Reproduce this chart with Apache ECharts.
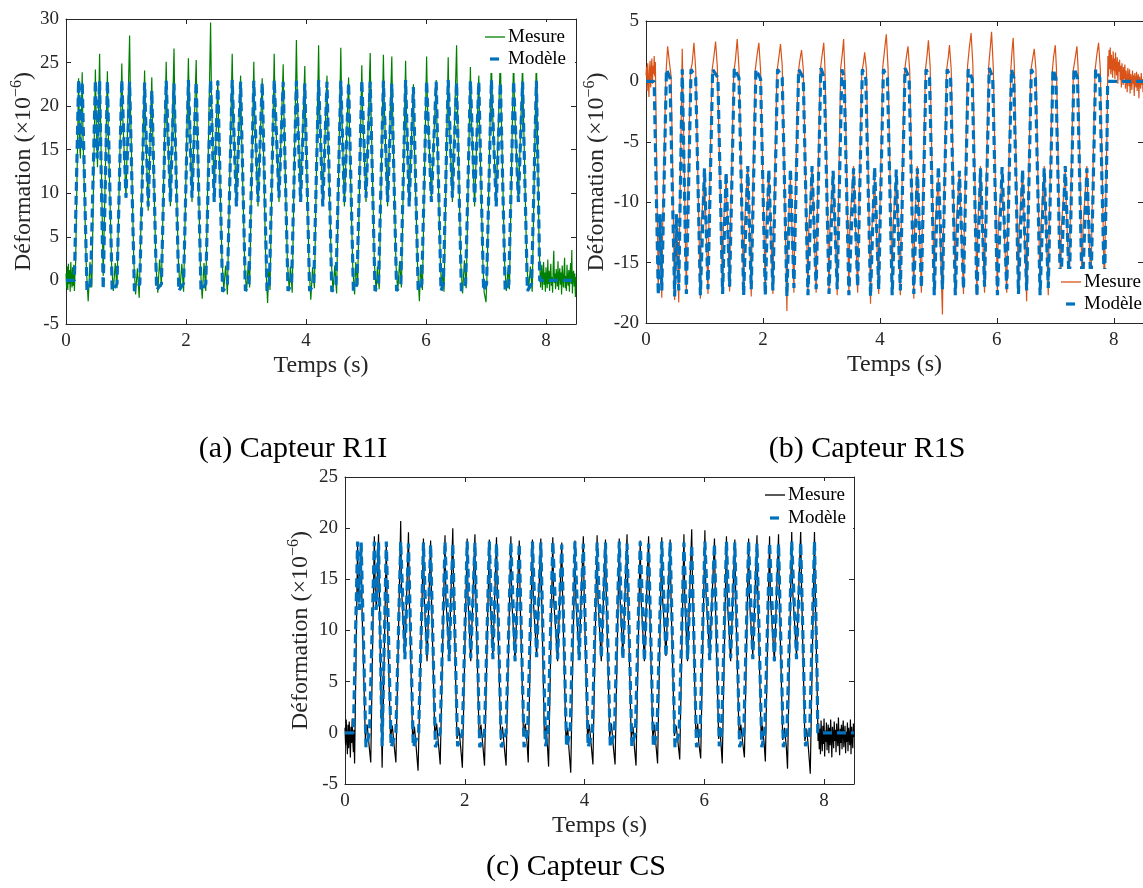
<!DOCTYPE html>
<html>
<head>
<meta charset="utf-8">
<script src="https://cdn.jsdelivr.net/npm/echarts@6/dist/echarts.min.js"></script>
<style>
html,body{margin:0;padding:0;background:#fff;}
#chart{width:1143px;height:888px;}
</style>
</head>
<body>
<div id="chart"></div>
<script>
// ---------- DATA ----------
const xTicks = [0, 2, 4, 6, 8];
const captions = ['(a) Capteur R1I', '(b) Capteur R1S', '(c) Capteur CS'];
const legendNames = ['Mesure', 'Modèle'];

// time knots of the measured signals (s), shared by the three sensors
const tMeas = [
  0,0.01,0.02,0.03,0.04,0.05,0.06,0.07,0.08,0.09,0.10,0.11,0.12,0.13,0.14,0.15,0.16,
  0.21,0.225,0.24,0.27,0.285,0.34,0.37,0.40,0.43,
  0.49,0.505,0.525,0.56,0.575,0.62,0.69,0.705,0.76,0.79,0.82,0.85,
  0.93,0.945,1.00,1.06,1.075,1.13,1.16,1.19,1.22,
  1.31,1.325,1.37,1.43,1.445,1.50,1.53,1.56,1.59,
  1.67,1.685,1.74,1.80,1.815,1.87,1.90,1.93,1.96,
  2.04,2.055,2.10,2.17,2.185,2.24,2.27,2.30,2.33,
  2.41,2.425,2.47,2.53,2.545,2.60,2.63,2.66,2.69,
  2.77,2.785,2.84,2.91,2.925,2.98,3.01,3.04,3.06,
  3.13,3.145,3.20,3.27,3.285,3.33,3.36,3.38,3.40,
  3.47,3.485,3.55,3.62,3.635,3.69,3.72,3.74,3.77,
  3.84,3.855,3.91,3.98,3.995,4.05,4.08,4.11,4.14,
  4.21,4.225,4.28,4.35,4.365,4.42,4.45,4.48,4.51,
  4.58,4.595,4.64,4.71,4.725,4.78,4.81,4.83,4.86,
  4.93,4.945,5.00,5.07,5.085,5.14,5.17,5.19,5.22,
  5.29,5.305,5.36,5.43,5.445,5.50,5.53,5.56,5.59,
  5.66,5.675,5.72,5.79,5.805,5.86,5.89,5.91,5.94,
  6.01,6.025,6.09,6.17,6.185,6.24,6.26,6.28,6.30,
  6.37,6.385,6.44,6.51,6.525,6.58,6.61,6.64,6.67,
  6.74,6.755,6.81,6.88,6.895,6.95,6.97,7.00,7.02,
  7.09,7.105,7.17,7.24,7.255,7.31,7.34,7.37,7.39,
  7.46,7.475,7.54,7.61,7.625,7.68,7.71,7.74,7.77,
  7.84,7.855,7.885,
  7.90,7.91,7.92,7.93,7.94,7.95,7.96,7.97,7.98,7.99,
  8.00,8.01,8.02,8.03,8.04,8.05,8.06,8.07,8.08,8.09,
  8.10,8.11,8.12,8.13,8.14,8.15,8.16,8.17,8.18,8.19,
  8.20,8.21,8.22,8.23,8.24,8.25,8.26,8.27,8.28,8.29,
  8.30,8.31,8.32,8.33,8.34,8.35,8.36,8.37,8.38,8.39,
  8.40,8.41,8.42,8.43,8.44,8.45,8.46,8.47,8.48,8.49,
  8.50
];

const measR1I = [
  0.8,-0.9,1.6,-1.1,1.9,-0.4,1.2,-1.3,2.1,0.2,-0.8,1.5,-0.6,1.8,-1.2,0.9,2.0,
  23.2,16,14,23.9,16,1.2,-2.4,2.1,-0.8,
  24.2,18,13,26.0,19,0.5,24.0,17,1.8,-1.2,2.0,-0.9,
  24.9,19,9.5,28.1,20,2.2,-1.6,1.4,-2.0,
  24.1,18,8,23.3,17,1.6,-1.4,2.4,-0.7,
  25.1,19,8.5,26.6,19,2.6,-1.0,1.9,-1.3,
  25.5,20,9,25.3,18,1.5,-2.1,2.0,-1.2,
  29.6,21,10,23.0,17,2.3,-1.1,1.7,-1.6,
  26.0,20,9,23.5,17,1.4,-1.3,2.2,-0.8,
  25.1,19,8.5,23.2,17,1.9,-2.6,1.3,-1.1,
  26.0,20,9,24.8,18,2.0,-1.0,1.6,-1.4,
  27.6,21,9.5,24.6,18,1.8,-2.2,1.5,-0.9,
  27.0,20,9,23.5,17,2.4,-1.1,1.7,-1.5,
  26.7,20,8.5,23.3,17,1.3,-1.6,2.1,-0.7,
  24.7,19,9,26.1,19,2.0,-1.3,1.6,-1.0,
  25.9,20,8.5,25.7,19,1.7,-1.2,2.2,-0.8,
  25.2,19,9,22.5,16,1.5,-2.4,1.8,-1.1,
  25.7,20,9.5,23.0,17,2.1,-1.0,1.4,-1.3,
  25.6,19,9,27.0,20,1.9,-1.5,2.3,-0.9,
  24.5,19,8.5,23.5,17,1.6,-1.4,-2.5,1.2,
  26,20,9,26,19,2.0,-1.2,1.5,-1.0,
  26,20,9,25,19,1.8,-1.1,1.6,-1.3,
  26,18,4,
  1.2,-0.8,0.5,1.8,-1.1,0.3,2.1,-0.5,0.9,-1.3,
  1.5,0.1,-0.9,2.4,-0.4,1.1,-1.2,0.7,1.9,-0.6,
  0.4,-1.4,1.6,3.4,-0.3,0.8,-1.0,1.3,0.2,-0.7,
  2.2,-1.1,0.6,1.4,-0.5,0.9,-1.6,1.7,0.3,-0.8,
  1.0,2.6,-0.9,0.5,-1.2,1.8,0.0,-0.6,1.2,-1.3,
  0.7,2.0,-0.4,3.5,-1.5,0.6,1.1,-0.7,0.8,-1.9,
  0.4
];

const measR1S = [
  0.5,1.2,-0.8,1.5,0.2,-1.3,1.0,1.7,-0.5,0.8,1.9,-0.2,1.3,0.6,2.1,0.4,1.6,
  -17.5,-12,-11,-17.9,-12,0.5,2.9,1.6,0.4,
  -18.1,-13,-11,-18.3,-12,2.7,-17.6,-12,0.8,1.5,3.2,1.0,
  -18.0,-12,-7.5,-17.6,-12,0.9,2.0,3.3,1.2,
  -17.5,-12,-8,-17.4,-12,0.7,1.8,3.5,1.1,
  -17.6,-12,-7,-17.8,-12,1.0,2.2,3.2,0.9,
  -17.5,-12,-7.5,-17.6,-12,0.8,1.9,3.1,1.3,
  -19.0,-13,-8,-17.5,-12,0.6,1.7,2.6,1.0,
  -17.6,-12,-7,-17.5,-12,0.9,2.1,3.2,1.2,
  -17.5,-12,-7.5,-17.7,-12,1.1,2.4,3.5,0.8,
  -17.6,-12,-7,-17.5,-12,0.7,1.6,2.4,1.0,
  -18.4,-13,-8,-17.6,-12,1.2,2.6,3.9,1.1,
  -17.5,-12,-7.5,-17.7,-12,0.8,1.9,2.9,0.9,
  -18.0,-12,-7,-17.5,-12,1.0,2.3,3.4,1.2,
  -17.6,-12,-8,-19.3,-13,0.9,2.0,3.0,1.0,
  -17.5,-12,-7.5,-17.6,-12,1.3,2.8,4.0,1.4,
  -17.7,-12,-7,-17.5,-12,1.2,2.9,4.1,1.1,
  -17.6,-12,-8,-17.5,-12,1.0,2.5,3.6,1.2,
  -17.5,-12,-7.5,-18.2,-13,0.8,1.8,2.7,0.9,
  -17.6,-12,-7,-17.7,-12,0.9,2.0,3.0,1.0,
  -17.5,-12,-7.5,-17.6,-12,1.0,1.9,2.9,1.1,
  -17.6,-12,-7,-17.8,-12,0.9,2.2,3.2,1.0,
  -17.7,-12,-4,
  2.1,0.4,2.6,1.0,2.8,0.6,2.2,1.4,0.3,2.5,
  0.9,1.9,0.2,2.4,1.1,0.5,2.0,-0.2,1.6,0.8,
  1.8,0.1,1.3,-0.5,1.5,0.7,-0.3,1.2,0.2,1.4,
  -0.6,0.9,0.3,-0.9,1.1,0.4,-0.4,1.0,-1.0,0.6,
  0.1,-0.7,0.9,-0.2,0.5,-1.2,0.7,0.0,-0.5,0.8,
  -0.8,0.3,0.6,-1.4,0.4,0.0,-0.6,0.7,-0.3,0.2,
  -0.9
];

const measCS = [
  0.5,-1.2,1.3,-0.6,-2.1,0.8,-1.5,1.1,-0.3,-2.4,0.6,-1.0,1.4,-0.8,-1.9,0.3,-3.0,
  18.5,13,13,18.5,12,-0.6,0.8,-1.1,-2.9,
  19.2,14,12,19.4,13,-3.4,18.6,12,-0.5,0.7,-1.2,-2.9,
  20.7,14,7.5,19.6,13,-0.8,0.6,-1.5,-3.7,
  19.0,13,7,18.8,13,-0.4,0.9,-1.0,-3.1,
  19.3,13,7.5,20.0,14,-0.6,0.5,-1.3,-3.4,
  19.0,13,7,19.4,13,-0.5,0.8,-1.1,-3.2,
  18.9,13,7.5,19.1,13,-0.7,0.6,-1.4,-3.2,
  19.2,13,7,18.8,13,-0.3,0.9,-1.0,-2.9,
  18.9,13,7.5,19.0,13,-0.6,0.7,-1.2,-3.3,
  19.1,13,7,18.6,13,-0.8,0.5,-1.6,-3.9,
  18.8,13,7.5,19.2,13,-0.5,0.8,-1.1,-3.1,
  19.3,13,7,18.9,13,-0.4,0.9,-1.3,-3.1,
  19.0,13,7.5,19.4,13,-0.6,0.6,-1.2,-3.2,
  18.8,13,7,19.2,13,-0.5,0.8,-1.0,-3.0,
  19.1,13,7.5,18.9,13,-0.3,0.7,-0.9,-2.6,
  19.4,13,7,19.9,14,-0.4,0.9,-1.1,-2.5,
  19.8,14,7.5,19.0,13,-0.6,0.6,-1.2,-3.0,
  19.2,13,7,18.9,13,-0.3,0.8,-0.9,-2.4,
  19.0,13,7.5,19.3,13,-0.5,0.7,-1.1,-2.8,
  19.2,13,7,19.4,13,-0.7,0.5,-1.4,-3.5,
  19.8,14,7.5,19.8,14,-0.8,0.4,-1.6,-4.0,
  19.8,13,4,
  -0.8,0.9,-1.6,0.4,-2.1,1.2,-0.5,-1.8,0.7,-1.1,
  1.4,-2.3,0.2,-0.9,1.0,-1.7,-0.3,0.8,-2.0,0.5,
  -1.2,1.3,-0.6,-2.4,0.6,-0.2,-1.5,1.1,-0.8,0.3,
  -1.9,0.9,-0.4,-1.3,1.5,-0.7,-2.2,0.4,-1.0,0.8,
  -1.6,0.2,1.2,-1.4,-0.5,0.7,-2.0,0.1,-0.9,1.0,
  -1.8,0.5,-0.3,-1.2,1.3,-2.1,0.6,-0.6,-1.5,0.9,
  -0.4
];

// time knots of the model curves (s), shared by the three sensors
const tModel = [
  0,0.14,
  0.21,0.24,0.27,0.35,0.41,
  0.49,0.52,0.56,0.62,0.69,0.77,0.85,
  0.93,1.00,1.06,1.14,1.23,
  1.31,1.37,1.43,1.51,1.59,
  1.67,1.74,1.80,1.88,1.96,
  2.04,2.10,2.17,2.25,2.33,
  2.41,2.47,2.53,2.61,2.69,
  2.77,2.84,2.91,2.99,3.05,
  3.13,3.20,3.27,3.35,3.39,
  3.47,3.55,3.62,3.70,3.76,
  3.84,3.91,3.98,4.06,4.13,
  4.21,4.28,4.35,4.43,4.50,
  4.58,4.64,4.71,4.79,4.85,
  4.93,5.00,5.07,5.15,5.21,
  5.29,5.36,5.43,5.51,5.58,
  5.66,5.72,5.79,5.87,5.93,
  6.01,6.09,6.17,6.25,6.29,
  6.37,6.44,6.51,6.59,6.66,
  6.74,6.81,6.88,6.96,7.01,
  7.09,7.17,7.24,7.32,7.38,
  7.46,7.54,7.61,7.69,7.76,
  7.84,7.885,7.895,8.5
];

const modelR1I = [
  0,0,
  23.0,15,22.8,-1.2,-0.4,
  23.0,14,22.9,-1.0,22.9,-1.2,-0.4,
  23.0,9.5,22.8,-1.2,-0.4,
  22.7,8.5,21.8,-1.1,-0.4,
  22.9,9,22.6,-1.2,-0.3,
  23.0,9.5,22.8,-1.2,-0.4,
  23.0,9,22.9,-1.3,-0.4,
  23.0,8.5,22.8,-1.2,-0.4,
  22.9,9,22.7,-1.2,-0.4,
  23.0,9.5,22.8,-1.2,-0.4,
  22.9,9,22.6,-1.2,-0.4,
  23.0,8.5,22.8,-1.3,-0.4,
  22.9,9,22.7,-1.2,-0.4,
  23.0,9.5,22.8,-1.2,-0.4,
  22.9,9,22.6,-1.2,-0.4,
  23.0,8.5,22.2,-1.2,-0.4,
  22.9,9,22.8,-1.2,-0.4,
  23.0,9.5,22.7,-1.2,-0.4,
  22.9,9,22.8,-1.2,-0.4,
  23.0,8.5,22.7,-1.2,-0.4,
  22.9,9,22.8,-1.2,-0.4,
  22.9,5,0,0
];

const modelR1S = [
  0,0,
  -17.7,-11,-17.3,1.0,0.3,
  -17.8,-11,-17.3,1.0,-17.6,1.0,0.3,
  -17.7,-7.2,-17.2,1.0,0.3,
  -17.6,-7.5,-17.0,1.1,0.3,
  -17.7,-7.0,-17.2,1.0,0.2,
  -17.7,-7.3,-17.3,1.0,0.3,
  -17.8,-7.2,-17.1,1.0,0.3,
  -17.7,-7.0,-17.2,1.1,0.3,
  -17.6,-7.4,-17.2,1.0,0.3,
  -17.7,-7.2,-17.0,1.0,0.2,
  -17.8,-7.1,-17.2,1.0,0.3,
  -17.7,-7.3,-17.3,1.1,0.3,
  -17.6,-7.2,-17.1,1.0,0.3,
  -17.7,-7.0,-17.2,1.0,0.3,
  -17.7,-7.4,-17.2,1.0,0.2,
  -17.8,-7.2,-17.0,1.1,0.3,
  -17.7,-7.1,-17.2,1.0,0.3,
  -17.6,-7.3,-17.3,1.0,0.3,
  -17.7,-7.2,-17.1,1.0,0.3,
  -17.7,-7.0,-17.2,1.1,0.3,
  -17.8,-7.2,-17.2,1.0,0.3,
  -17.6,-4.6,0,0
];

const modelCS = [
  0,0,
  18.7,12,18.6,-1.4,0,
  18.7,12,18.6,-1.3,18.7,-1.4,0,
  18.7,7.2,18.5,-1.4,0,
  18.6,7.5,18.4,-1.4,0,
  18.7,7.0,18.5,-1.3,0,
  18.7,7.3,18.6,-1.4,0,
  18.7,7.2,18.5,-1.4,0,
  18.6,7.0,18.5,-1.4,0,
  18.7,7.4,18.6,-1.3,0,
  18.7,7.2,18.4,-1.4,0,
  18.7,7.1,18.5,-1.4,0,
  18.6,7.3,18.6,-1.4,0,
  18.7,7.2,18.5,-1.3,0,
  18.7,7.0,18.5,-1.4,0,
  18.7,7.4,18.6,-1.4,0,
  18.6,7.2,18.4,-1.4,0,
  18.7,7.1,18.5,-1.3,0,
  18.7,7.3,18.6,-1.4,0,
  18.7,7.2,18.5,-1.4,0,
  18.6,7.0,18.5,-1.4,0,
  18.7,7.2,18.6,-1.3,0,
  18.7,5,0,0
];

// ---------- CHART ----------
const F = "'Liberation Serif','DejaVu Serif',serif";
const AX = '#262626';
const TXT = '#262626';
const GREEN = '#008000', ORANGE = '#D95319', BLACK = '#000000', BLUE = '#0072BD';
const DASH = [9, 5];

function pts(ts, vs) {
  if (ts.length !== vs.length) throw new Error('length mismatch ' + ts.length + ' vs ' + vs.length);
  return ts.map((t, i) => [t, vs[i]]);
}

const yName = '{n|Déformation (×10}{s|−6}{n|)}';
const yRich = {
  n: {fontSize: 24, fontFamily: F, color: TXT, lineHeight: 30},
  s: {fontSize: 16, fontFamily: F, color: TXT, lineHeight: 16, verticalAlign: 'top'}
};

function xAx(grid, pos, main, gap) {
  return {
    type: 'value', gridIndex: grid, position: pos, min: 0, max: 8.5, interval: 2,
    axisLine: {show: true, onZero: false, lineStyle: {color: AX, width: 1}},
    axisTick: {show: true, inside: true, length: 5, customValues: xTicks, lineStyle: {color: AX, width: 1}},
    axisLabel: {show: main, customValues: xTicks, margin: 8, fontSize: 19, fontFamily: F, color: TXT},
    splitLine: {show: false},
    name: main ? 'Temps (s)' : '', nameLocation: 'middle', nameGap: gap,
    nameTextStyle: {fontSize: 24, fontFamily: F, color: TXT}
  };
}
function yAx(grid, pos, main, min, max, gap) {
  return {
    type: 'value', gridIndex: grid, position: pos, min: min, max: max, interval: 5,
    axisLine: {show: true, onZero: false, lineStyle: {color: AX, width: 1}},
    axisTick: {show: true, inside: true, length: 5, lineStyle: {color: AX, width: 1}},
    axisLabel: {show: main, margin: 7, fontSize: 19, fontFamily: F, color: TXT},
    splitLine: {show: false},
    name: main ? yName : '', nameLocation: 'middle', nameRotate: 90, nameGap: gap,
    nameTextStyle: {rich: yRich}
  };
}

function meas(name, idx, data, color) {
  return {type: 'line', name: name, xAxisIndex: idx, yAxisIndex: idx, data: data,
    symbol: 'none', showSymbol: false, animation: false, z: 2,
    lineStyle: {color: color, width: 1.2}, itemStyle: {color: color}};
}
function model(name, idx, data) {
  return {type: 'line', name: name, xAxisIndex: idx, yAxisIndex: idx, data: data,
    symbol: 'none', showSymbol: false, animation: false, z: 3,
    lineStyle: {color: BLUE, width: 3.2, type: DASH}, itemStyle: {color: BLUE}};
}

// legend box drawn as graphic: white background, line samples, text
function legendBox(bx, by, bw, bh, lx, y1, y2, color) {
  const txt = (x, y, s) => ({type: 'text', x: x, y: y, z: 101,
    style: {text: s, fontSize: 19, fontFamily: F, fill: '#000', align: 'left', verticalAlign: 'middle'}});
  return [
    {type: 'rect', z: 100, shape: {x: bx, y: by, width: bw, height: bh}, style: {fill: '#ffffff'}},
    {type: 'line', z: 101, shape: {x1: lx, y1: y1, x2: lx + 20, y2: y1}, style: {stroke: color, lineWidth: 1.3}},
    {type: 'line', z: 101, shape: {x1: lx + 5, y1: y2, x2: lx + 14, y2: y2}, style: {stroke: BLUE, lineWidth: 3.2}},
    txt(lx + 23, y1, legendNames[0]),
    txt(lx + 23, y2, legendNames[1])
  ];
}
function caption(x, y, s) {
  return {type: 'text', x: x, y: y, z: 101,
    style: {text: s, fontSize: 30, fontFamily: F, fill: '#000', align: 'center', verticalAlign: 'middle'}};
}

const option = {
  backgroundColor: '#ffffff',
  animation: false,
  grid: [
    {left: 66, top: 19, width: 510, height: 305},
    {left: 646, top: 21, width: 504, height: 302},
    {left: 345, top: 477, width: 509, height: 307}
  ],
  xAxis: [
    xAx(0, 'bottom', true, 30), xAx(0, 'top', false, 0),
    xAx(1, 'bottom', true, 30), xAx(1, 'top', false, 0),
    xAx(2, 'bottom', true, 30), xAx(2, 'top', false, 0)
  ],
  yAxis: [
    yAx(0, 'left', true, -5, 30, 27), yAx(0, 'right', false, -5, 30, 0),
    yAx(1, 'left', true, -20, 5, 34), yAx(1, 'right', false, -20, 5, 0),
    yAx(2, 'left', true, -5, 25, 29), yAx(2, 'right', false, -5, 25, 0)
  ],
  series: [
    meas('Mesure_a', 0, pts(tMeas, measR1I), GREEN),
    model('Modèle_a', 0, pts(tModel, modelR1I)),
    meas('Mesure_b', 2, pts(tMeas, measR1S), ORANGE),
    model('Modèle_b', 2, pts(tModel, modelR1S)),
    meas('Mesure_c', 4, pts(tMeas, measCS), BLACK),
    model('Modèle_c', 4, pts(tModel, modelCS))
  ],
  graphic: [].concat(
    legendBox(478, 22, 97, 51, 485, 37, 59, GREEN),
    legendBox(1055, 269, 95, 49, 1061, 282, 304, ORANGE),
    legendBox(759, 481, 94, 51, 765, 495, 518, BLACK),
    [caption(293, 449, captions[0]), caption(867, 449, captions[1]), caption(576, 867, captions[2])]
  )
};

const chart = echarts.init(document.getElementById('chart'), null, {renderer: 'canvas'});
chart.setOption(option);
</script>
</body>
</html>
